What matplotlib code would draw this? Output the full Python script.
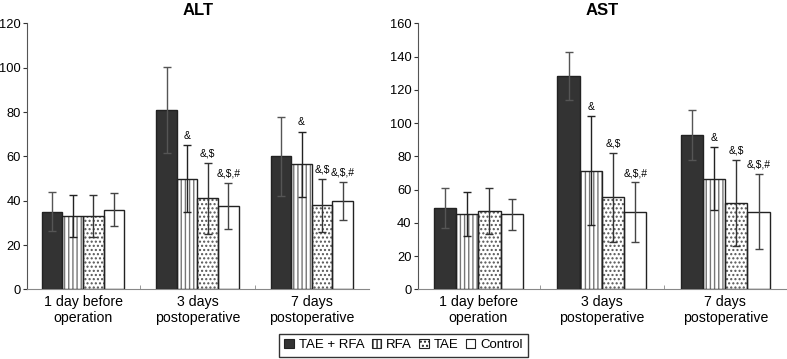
import numpy as np
import matplotlib
matplotlib.use("Agg")
import matplotlib.pyplot as plt
from matplotlib.patches import Patch

plt.rcParams['font.family'] = ['Liberation Sans', 'DejaVu Sans']

groups = ["1 day before\noperation", "3 days\npostoperative", "7 days\npostoperative"]
series = ["TAE + RFA", "RFA", "TAE", "Control"]

alt_mean = [[35, 81, 60], [33, 50, 56.5], [33, 41, 38], [36, 37.5, 40]]
alt_err = [[8.7, 19.3, 17.7], [9.5, 15, 14.7], [9.5, 16, 12], [7.3, 10.5, 8.5]]

ast_mean = [[48.7, 128.3, 92.8], [45.1, 71.3, 66.5], [47.1, 55.3, 51.9], [45.1, 46.3, 46.7]]
ast_err = [[12, 14.5, 15], [13.2, 32.7, 19], [14, 27, 26], [9.4, 18, 22.7]]

marks = [["", "", ""], ["", "&", "&"], ["", "&,$", "&,$"], ["", "&,$,#", "&,$,#"]]

face = ['#333333', 'white', 'white', 'white']
hatch = [None, '||||', '....', None]
hatch_col = ['#333333', '#777777', '#555555', 'white']
err_col = ['#555555', '#222222', '#333333', '#444444']


def draw(ax, means, errs, ymax, title):
    w = 0.18
    x = np.arange(len(groups))
    for i in range(len(series)):
        xs = x + (i - 1.5) * w
        # hatched fill first, then the outline on top
        ax.bar(xs, means[i], w, color=face[i], edgecolor=hatch_col[i], hatch=hatch[i],
               linewidth=0, zorder=2)
        ax.bar(xs, means[i], w, fill=False, edgecolor='#222222', linewidth=1.0, zorder=3)
        ax.errorbar(xs, means[i], yerr=errs[i], fmt='none', ecolor=err_col[i],
                    elinewidth=1.0, capsize=3, capthick=1.0, zorder=4)
        for j in range(len(groups)):
            if marks[i][j]:
                ax.annotate(marks[i][j], (xs[j], means[i][j] + errs[i][j]),
                            xytext=(0, 3), textcoords='offset points',
                            ha='center', va='bottom', fontsize=7.5)
    ax.set_xlim(-0.49, 2.5)
    ax.set_ylim(0, ymax)
    ax.set_yticks(np.arange(0, ymax + 1, 20))
    ax.set_xticks(x)
    ax.set_xticklabels(groups, fontsize=10.2)
    ax.set_xticks(x[:-1] + 0.5, minor=True)
    ax.tick_params(axis='x', which='major', length=0, pad=4)
    ax.tick_params(axis='x', which='minor', length=3, direction='in', color='#888888')
    ax.tick_params(axis='y', labelsize=9.3, length=3, color='#333333', pad=1.5)
    for s in ['top', 'right']:
        ax.spines[s].set_visible(False)
    ax.spines['left'].set_color('#555555')
    ax.spines['bottom'].set_color('#888888')
    ax.set_title(title, fontsize=12, fontweight='bold', pad=6)


fig = plt.figure(figsize=(7.87, 3.59), dpi=100)
ax1 = fig.add_axes([0.0343, 0.194, 0.4346, 0.741])
ax2 = fig.add_axes([0.531, 0.194, 0.469, 0.741])

draw(ax1, alt_mean, alt_err, 120, "ALT")
draw(ax2, ast_mean, ast_err, 160, "AST")

leg_handles = [Patch(facecolor=face[i], edgecolor='#222222', hatch=hatch[i], linewidth=0.8)
               for i in range(len(series))]
fig.legend(leg_handles, series, loc='center', bbox_to_anchor=(0.513, 0.038), ncol=4,
           fontsize=9.5, frameon=True, fancybox=False, edgecolor='black',
           handlelength=0.7, handleheight=0.7, handletextpad=0.4, columnspacing=0.55,
           borderpad=0.4)

fig.savefig("out.png", dpi=100)
